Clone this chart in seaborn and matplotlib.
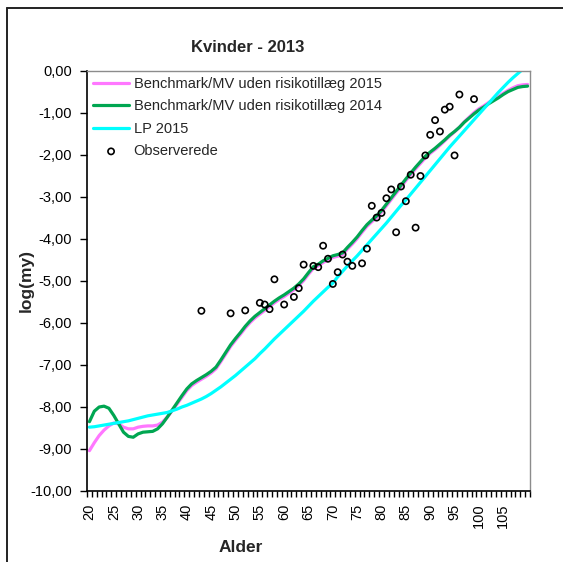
import matplotlib
matplotlib.use("Agg")
import matplotlib.pyplot as plt
from matplotlib.lines import Line2D
from matplotlib.ticker import FixedLocator, FuncFormatter
import seaborn as sns

# Age grid for the mortality curves
ages = list(range(20, 111))

# log(mortality) by age, Benchmark/MV without risk margin, 2015
benchmark_2015 = [
    -9.04, -8.85, -8.68, -8.55, -8.45, -8.38, -8.40, -8.48, -8.52, -8.52,
    -8.48, -8.46, -8.45, -8.45, -8.43, -8.36, -8.24, -8.09, -7.93, -7.77,
    -7.61, -7.49, -7.41, -7.34, -7.27, -7.19, -7.09, -6.92, -6.74, -6.56,
    -6.41, -6.27, -6.12, -5.99, -5.88, -5.79, -5.70, -5.61, -5.52, -5.44,
    -5.37, -5.29, -5.21, -5.11, -4.99, -4.84, -4.70, -4.64, -4.56, -4.50,
    -4.44, -4.41, -4.37, -4.24, -4.12, -3.99, -3.84, -3.70, -3.59, -3.49,
    -3.36, -3.21, -3.06, -2.91, -2.76, -2.61, -2.47, -2.33, -2.20, -2.07,
    -1.96, -1.87, -1.77, -1.66, -1.55, -1.45, -1.34, -1.21, -1.10, -0.99,
    -0.90, -0.83, -0.75, -0.68, -0.61, -0.53, -0.46, -0.40, -0.35, -0.33,
    -0.32,
]

# log(mortality) by age, Benchmark/MV without risk margin, 2014
benchmark_2014 = [
    -8.35, -8.10, -8.00, -7.98, -8.03, -8.20, -8.40, -8.60, -8.70, -8.72,
    -8.64, -8.60, -8.59, -8.58, -8.52, -8.40, -8.24, -8.07, -7.90, -7.73,
    -7.57, -7.45, -7.37, -7.30, -7.23, -7.15, -7.05, -6.88, -6.70, -6.52,
    -6.37, -6.23, -6.08, -5.95, -5.84, -5.75, -5.66, -5.57, -5.48, -5.40,
    -5.33, -5.25, -5.17, -5.07, -4.95, -4.80, -4.66, -4.60, -4.52, -4.46,
    -4.40, -4.37, -4.33, -4.20, -4.08, -3.95, -3.80, -3.66, -3.55, -3.45,
    -3.32, -3.17, -3.02, -2.87, -2.72, -2.57, -2.43, -2.29, -2.16, -2.03,
    -1.93, -1.84, -1.74, -1.64, -1.53, -1.44, -1.34, -1.22, -1.12, -1.02,
    -0.93, -0.86, -0.78, -0.71, -0.64, -0.56, -0.49, -0.44, -0.39, -0.37,
    -0.36,
]

# log(mortality) by age, LP 2015
lp_2015 = [
    -8.48, -8.47, -8.45, -8.43, -8.41, -8.39, -8.37, -8.35, -8.33, -8.30,
    -8.27, -8.24, -8.21, -8.19, -8.17, -8.15, -8.13, -8.09, -8.05, -8.00,
    -7.96, -7.91, -7.86, -7.81, -7.75, -7.68, -7.60, -7.52, -7.43, -7.34,
    -7.25, -7.15, -7.05, -6.95, -6.85, -6.73, -6.62, -6.50, -6.38, -6.27,
    -6.16, -6.05, -5.94, -5.83, -5.72, -5.60, -5.48, -5.37, -5.26, -5.15,
    -5.05, -4.90, -4.77, -4.64, -4.52, -4.40, -4.27, -4.14, -4.01, -3.88,
    -3.75, -3.62, -3.48, -3.34, -3.20, -3.07, -2.93, -2.79, -2.65, -2.51,
    -2.37, -2.23, -2.09, -1.95, -1.81, -1.68, -1.55, -1.42, -1.29, -1.16,
    -1.03, -0.90, -0.77, -0.64, -0.51, -0.39, -0.27, -0.16, -0.06, 0.04,
    0.14,
]

# Observed log(mortality), women 2013
obs_ages = [43, 49, 52, 55, 56, 57, 58, 60, 62, 63, 64, 66, 67, 68, 69, 70,
            71, 72, 73, 74, 76, 77, 78, 79, 80, 81, 82, 83, 84, 85, 86, 87,
            88, 89, 90, 91, 92, 93, 94, 95, 96, 99]
obs_values = [-5.71, -5.77, -5.70, -5.52, -5.56, -5.67, -4.96, -5.56, -5.38,
              -5.17, -4.61, -4.64, -4.67, -4.16, -4.47, -5.07, -4.79, -4.37,
              -4.54, -4.64, -4.58, -4.23, -3.21, -3.49, -3.38, -3.03, -2.82,
              -3.84, -2.75, -3.10, -2.47, -3.73, -2.50, -2.01, -1.52, -1.17,
              -1.44, -0.92, -0.85, -2.01, -0.56, -0.67]

x_tick_values = list(range(20, 110, 5))
y_tick_values = list(range(-10, 1))

sns.set_theme(style="white")
plt.rcParams["font.family"] = ["Liberation Sans", "DejaVu Sans"]

W, H = 563, 562
fig = plt.figure(figsize=(W / 100, H / 100), dpi=100)
fig.patch.set_facecolor("white")

left, right, top, bottom = 87, 530, 71, 491
ax = fig.add_axes([left / W, 1 - bottom / H, (right - left) / W, (bottom - top) / H])
ax.set_facecolor("white")

lw = 2.3
sns.lineplot(x=ages, y=benchmark_2015, color="#FF77FF", lw=lw,
             label="Benchmark/MV uden risikotillæg 2015", ax=ax)
sns.lineplot(x=ages, y=benchmark_2014, color="#00A651", lw=lw,
             label="Benchmark/MV uden risikotillæg 2014", ax=ax)
sns.lineplot(x=ages, y=lp_2015, color="#00FFFF", lw=lw,
             label="LP 2015", ax=ax)
sns.scatterplot(x=obs_ages, y=obs_values, marker="o", s=20,
                facecolors="none", edgecolor="black", linewidth=1.2,
                label="Observerede", ax=ax, zorder=5)

ax.set_xlim(19.5, 110.5)
ax.set_ylim(-10, 0)

# x axis: labels every 5 years, small tick marks between each year
ax.xaxis.set_major_locator(FixedLocator(x_tick_values))
ax.xaxis.set_minor_locator(FixedLocator([a - 0.5 for a in range(20, 112)]))
ax.set_xticklabels([str(v) for v in x_tick_values], rotation=90)
ax.tick_params(axis="x", which="major", length=0, pad=9, labelsize=10.5,
               colors="black")
ax.tick_params(axis="x", which="minor", bottom=True, length=4, width=1,
               color="black", direction="out")

# y axis: decimal comma
ax.yaxis.set_major_locator(FixedLocator(y_tick_values))
ax.yaxis.set_major_formatter(
    FuncFormatter(lambda v, p: f"{v:.2f}".replace(".", ",").replace("-0,00", "0,00")))
ax.tick_params(axis="y", which="major", left=True, length=5, width=1,
               color="black", direction="out", pad=6, labelsize=10.5,
               labelcolor="black")

for side in ("top", "right"):
    ax.spines[side].set_color("#8C8C8C")
    ax.spines[side].set_linewidth(1.0)
for side in ("left", "bottom"):
    ax.spines[side].set_color("black")
    ax.spines[side].set_linewidth(1.2)

ax.set_xlabel("")
ax.set_ylabel("")

handles, labels = ax.get_legend_handles_labels()
ax.legend(handles, labels, loc="upper left", frameon=False, fontsize=10.5,
          handlelength=2.5, handletextpad=0.3, labelspacing=0.58,
          borderaxespad=0.0, bbox_to_anchor=(0.0, 1.0))

fig.text(248 / W, 1 - 48 / H, "Kvinder - 2013", ha="center", va="center",
         fontsize=12, fontweight="bold")
fig.text(241 / W, 1 - 547 / H, "Alder", ha="center", va="center",
         fontsize=12.5, fontweight="bold")
fig.text(26 / W, 1 - 281 / H, "log(my)", ha="center", va="center",
         rotation=90, fontsize=12.5, fontweight="bold")

# outer chart frame (top and left edges)
fig.add_artist(Line2D([7 / W, 1.0], [1 - 8 / H, 1 - 8 / H], color="#222222",
                      lw=1.4, transform=fig.transFigure))
fig.add_artist(Line2D([7 / W, 7 / W], [0.0, 1 - 8 / H], color="#222222",
                      lw=1.4, transform=fig.transFigure))

fig.savefig("out.png", dpi=100, facecolor="white")
